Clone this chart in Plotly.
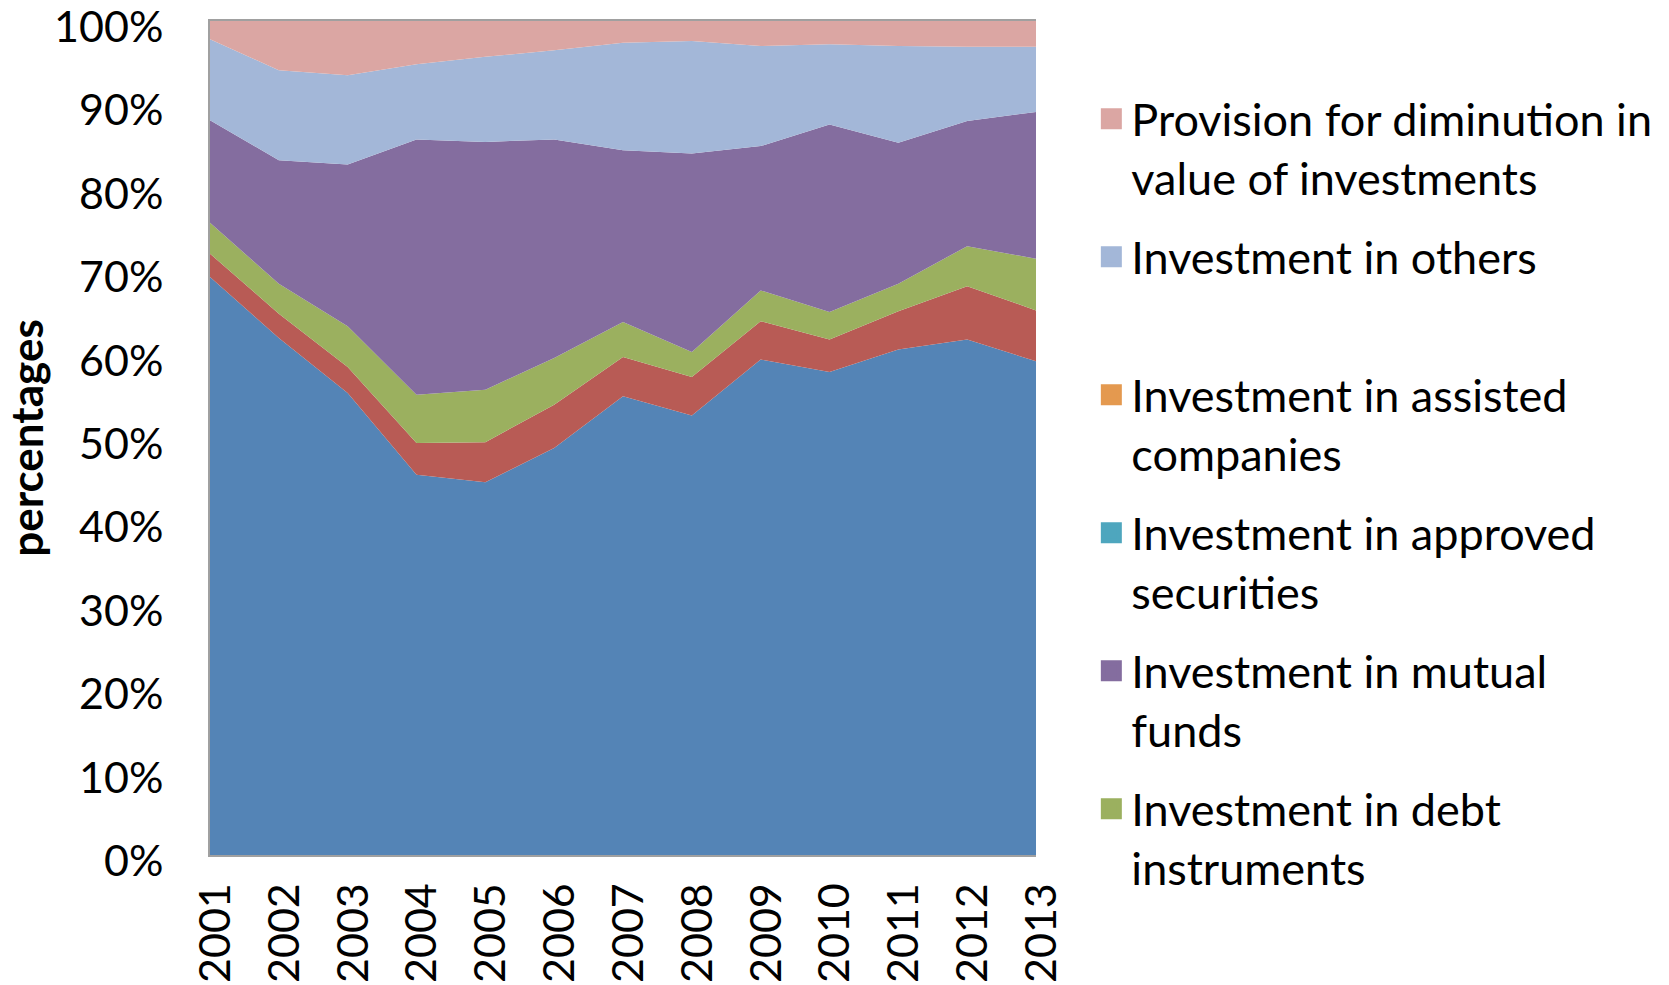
import plotly.graph_objects as go

years = [2001, 2002, 2003, 2004, 2005, 2006, 2007, 2008, 2009, 2010, 2011, 2012, 2013]

# shares of each component (percent), bottom of the stack first
series_1 = [69.3, 62.0, 55.4, 45.6, 44.7, 48.8, 55.0, 52.7, 59.4, 57.9, 60.6, 61.8, 59.2]
series_2 = [2.8, 2.9, 3.1, 3.8, 4.8, 5.2, 4.7, 4.6, 4.6, 3.9, 4.6, 6.4, 6.1]
debt = [3.7, 3.6, 4.9, 5.8, 6.3, 5.6, 4.2, 3.0, 3.7, 3.3, 3.3, 4.8, 6.2]
mutual = [12.3, 14.8, 19.4, 30.6, 29.7, 26.2, 20.6, 23.8, 17.3, 22.5, 16.9, 15.0, 17.6]
approved = [0, 0, 0, 0, 0, 0, 0, 0, 0, 0, 0, 0, 0]
assisted = [0, 0, 0, 0, 0, 0, 0, 0, 0, 0, 0, 0, 0]
others = [9.7, 10.8, 10.7, 9.0, 10.2, 10.7, 12.9, 13.5, 12.0, 9.6, 11.6, 8.9, 7.8]
provision = [2.2, 5.9, 6.5, 5.2, 4.3, 3.5, 2.6, 2.4, 3.0, 2.8, 3.0, 3.1, 3.1]

y_ticks = [0, 10, 20, 30, 40, 50, 60, 70, 80, 90, 100]

FONT = "Lato"

# stack order, bottom first
layers = [
    ("Series 1", series_1, "#5484B6"),
    ("Series 2", series_2, "#B85B55"),
    ("Investment in debt<br>instruments", debt, "#9BB05F"),
    ("Investment in mutual<br>funds", mutual, "#846D9F"),
    ("Investment in approved<br>securities", approved, "#4EA6BE"),
    ("Investment in assisted<br>companies", assisted, "#E4994F"),
    ("Investment in others<br>&nbsp;", others, "#A3B7D8"),
    ("Provision for diminution in<br>value of investments", provision, "#DBA6A3"),
]

fig = go.Figure()
for name, vals, col in layers:
    fig.add_trace(go.Scatter(
        x=years, y=vals, mode="none", stackgroup="one", groupnorm="percent",
        fillcolor=col, name=name, showlegend=False, hoverinfo="x+y+name"
    ))

# legend entries, top to bottom (the first two series are cut off in the original legend)
for k, (name, vals, col) in enumerate(reversed(layers[2:])):
    fig.add_trace(go.Scatter(
        x=[None], y=[None], mode="markers", name=name, legendgroup="g%d" % k,
        marker=dict(symbol="square", size=16, color=col, line=dict(color=col, width=10))
    ))

fig.update_layout(
    width=1669, height=985,
    margin=dict(l=210, r=631, t=21, b=130),
    paper_bgcolor="white", plot_bgcolor="white",
    font=dict(family=FONT, color="black"),
    showlegend=True,
    legend=dict(
        x=1.067, xanchor="left", y=0.9257, yanchor="top",
        traceorder="grouped", tracegroupgap=18, valign="top",
        font=dict(size=45, family=FONT, color="black"),
        itemsizing="trace", maxheight=980,
    ),
    xaxis=dict(
        range=[2001, 2013], tickmode="array", tickvals=years,
        ticktext=[str(y) for y in years], tickangle=-90,
        tickfont=dict(size=43), showgrid=False, zeroline=False,
        showline=True, linecolor="#A0A0A0", linewidth=2, mirror=True,
        ticks="", ticklabelstandoff=9, ticklabelshift=6, automargin=False,
    ),
    yaxis=dict(
        range=[0, 100], tickmode="array", tickvals=y_ticks,
        ticktext=["%d%%" % v for v in y_ticks],
        tickfont=dict(size=43), showgrid=False, zeroline=False,
        showline=True, linecolor="#A0A0A0", linewidth=2,
        ticks="", ticklabelstandoff=36, ticklabelshift=6,
        ticklabeloverflow="allow", automargin=False,
        title=dict(text="<b>percentages</b>", font=dict(size=44), standoff=16),
    ),
)

# drop the default 8px body margin so the figure fills the window exactly
fig.write_html(
    "out.html",
    config={"displayModeBar": False},
    post_script="document.body.style.margin='0';document.body.style.overflow='hidden';",
)
